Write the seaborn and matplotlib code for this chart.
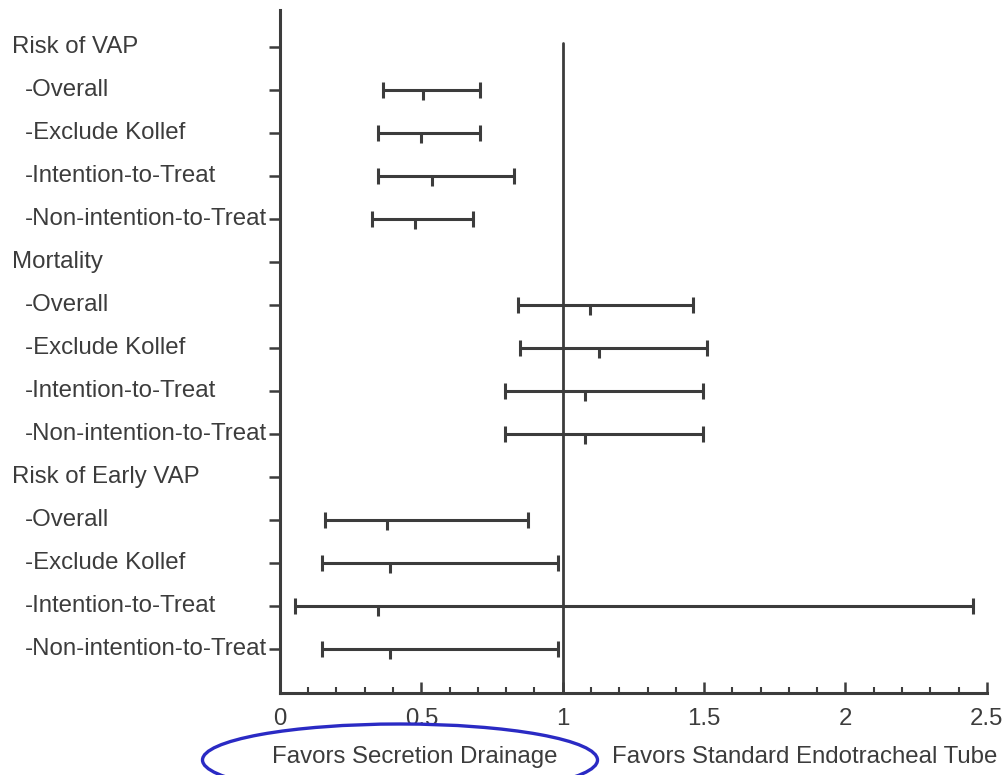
import matplotlib
matplotlib.use("Agg")
import matplotlib.pyplot as plt
import matplotlib.transforms as mtransforms
from matplotlib.patches import Ellipse
from matplotlib.ticker import MultipleLocator
import pandas as pd
import seaborn as sns

# Row labels top to bottom (headers have no estimate)
ROW_LABELS = [
    "Risk of VAP", "-Overall", "-Exclude Kollef", "-Intention-to-Treat", "-Non-intention-to-Treat",
    "Mortality", "-Overall", "-Exclude Kollef", "-Intention-to-Treat", "-Non-intention-to-Treat",
    "Risk of Early VAP", "-Overall", "-Exclude Kollef", "-Intention-to-Treat", "-Non-intention-to-Treat",
]
HEADER_ROWS = [0, 5, 10]

# Estimates for the data rows
DATA_ROWS = [1, 2, 3, 4, 6, 7, 8, 9, 11, 12, 13, 14]
ESTIMATE = [0.505, 0.499, 0.537, 0.476, 1.098, 1.127, 1.079, 1.079, 0.380, 0.388, 0.348, 0.388]
LOWER = [0.364, 0.346, 0.346, 0.326, 0.841, 0.849, 0.797, 0.797, 0.158, 0.150, 0.052, 0.150]
UPPER = [0.709, 0.709, 0.829, 0.684, 1.462, 1.509, 1.495, 1.495, 0.877, 0.985, 2.450, 0.985]

X_TICKS = [0, 0.5, 1, 1.5, 2, 2.5]
X_TICK_LABELS = ["0", "0.5", "1", "1.5", "2", "2.5"]
LEFT_NOTE = "Favors Secretion Drainage"
RIGHT_NOTE = "Favors Standard Endotracheal Tube"

INK = "#3c3c3c"
FS = 17.3

sns.set_style("white")
plt.rcParams["font.family"] = ["Liberation Sans", "DejaVu Sans"]

df = pd.DataFrame({
    "row": DATA_ROWS,
    "estimate": ESTIMATE,
    "lower": LOWER,
    "upper": UPPER,
})

fig = plt.figure(figsize=(10.07, 7.75), dpi=100)
ax = fig.add_axes([0.278, 0.106, 0.702, 0.881])

ax.errorbar(
    df["estimate"], df["row"],
    xerr=[df["estimate"] - df["lower"], df["upper"] - df["estimate"]],
    fmt="none", ecolor=INK, elinewidth=2.2, capsize=6, capthick=2.2,
)
sns.scatterplot(
    data=df, x="estimate", y="row", marker=3, s=55,
    color=INK, linewidth=2.2, ax=ax, legend=False,
)

ax.set_xlim(0, 2.5)
ax.set_ylim(15.02, -0.86)
ax.plot([1, 1], [-0.09, 15.02], color=INK, linewidth=2.0, zorder=1)

ax.set_xticks(X_TICKS)
ax.set_xticklabels(X_TICK_LABELS)
ax.xaxis.set_minor_locator(MultipleLocator(0.1))
ax.tick_params(axis="x", which="major", direction="in", length=8, width=1.8, bottom=True,
               color=INK, labelsize=FS, labelcolor=INK, pad=11)
ax.tick_params(axis="x", which="minor", direction="in", length=4, width=1.5, bottom=True,
               color=INK)

ax.set_yticks(range(len(ROW_LABELS)))
ax.set_yticklabels([])
ax.tick_params(axis="y", direction="out", length=8, width=1.8, color=INK, left=True)

for side in ["top", "right"]:
    ax.spines[side].set_visible(False)
for side in ["left", "bottom"]:
    ax.spines[side].set_color(INK)
    ax.spines[side].set_linewidth(2.2)

ax.set_xlabel("")
ax.set_ylabel("")

trans = mtransforms.blended_transform_factory(fig.transFigure, ax.transData)
for i, label in enumerate(ROW_LABELS):
    x = 0.012 if i in HEADER_ROWS else 0.025
    fig.text(x, i, label, transform=trans, ha="left", va="center",
             fontsize=FS, color=INK)

fig.text(0.270, 0.023, LEFT_NOTE, ha="left", va="center", fontsize=FS, color=INK)
fig.text(0.608, 0.023, RIGHT_NOTE, ha="left", va="center", fontsize=FS, color=INK)

fig.patches.append(Ellipse((400 / 1007, 1 - 760 / 775), 395 / 1007, 72 / 775,
                           transform=fig.transFigure, fill=False,
                           edgecolor="#2a2ac4", linewidth=2.4))

fig.savefig("out.png", dpi=100, facecolor="white")
